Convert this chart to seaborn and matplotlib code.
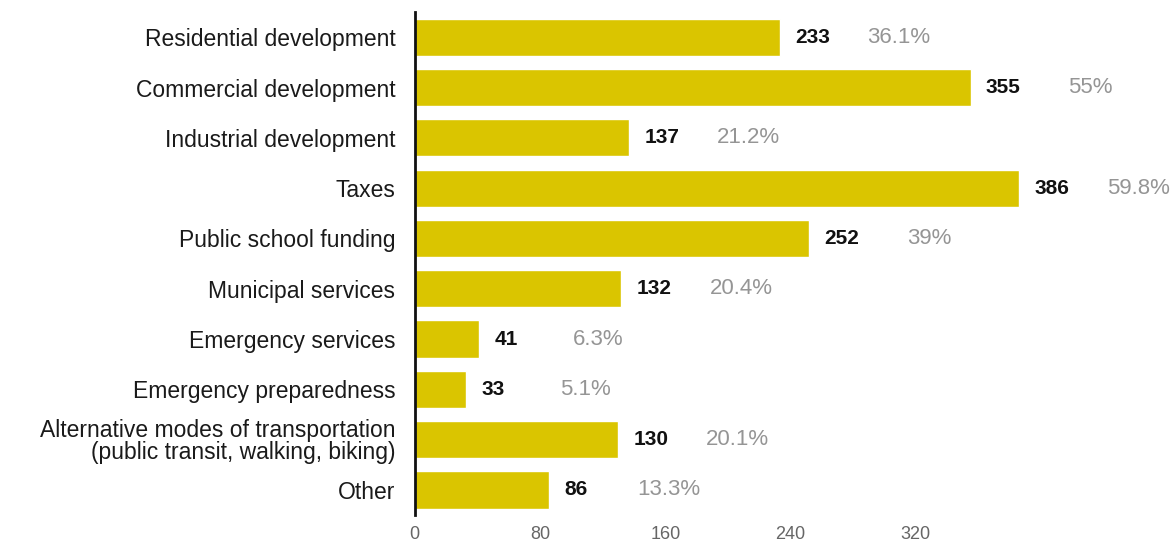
import matplotlib
matplotlib.use("Agg")
import matplotlib.pyplot as plt
import seaborn as sns
import pandas as pd

categories = [
    "Residential development",
    "Commercial development",
    "Industrial development",
    "Taxes",
    "Public school funding",
    "Municipal services",
    "Emergency services",
    "Emergency preparedness",
    "Alternative modes of transportation\n(public transit, walking, biking)",
    "Other",
]
counts = [233, 355, 137, 386, 252, 132, 41, 33, 130, 86]
percents = ["36.1%", "55%", "21.2%", "59.8%", "39%", "20.4%", "6.3%", "5.1%", "20.1%", "13.3%"]
xticks = [0, 80, 160, 240, 320]

sns.set_theme(style="white")
plt.rcParams["font.family"] = ["Liberation Sans", "DejaVu Sans"]

df = pd.DataFrame({"category": categories, "count": counts})

fig = plt.figure(figsize=(11.75, 5.48), dpi=100)
ax = fig.add_axes([0.353, 0.06, 0.633, 0.918])
sns.barplot(data=df, x="count", y="category", orient="h", color="#DAC500",
            saturation=1, width=0.74, ax=ax)

for i, (c, p) in enumerate(zip(counts, percents)):
    ax.annotate(str(c), xy=(c, i), xytext=(11, 0), textcoords="offset points",
                ha="left", va="center", fontsize=15, fontweight="bold", color="#111111")
    ax.annotate(p, xy=(c, i), xytext=(86, 0), textcoords="offset points",
                ha="center", va="center", fontsize=16, color="#959595")

ax.set_xlim(0, 475)
ax.set_xticks(xticks)
ax.set_xticklabels([str(t) for t in xticks], fontsize=13, color="#666666")
ax.tick_params(axis="x", length=0, pad=8)
ax.tick_params(axis="y", length=0, pad=14, labelsize=16.5, labelcolor="#1a1a1a")
ax.set_xlabel("")
ax.set_ylabel("")
for lbl in ax.get_yticklabels():
    lbl.set_linespacing(0.95)
for s in ["top", "right", "bottom"]:
    ax.spines[s].set_visible(False)
ax.spines["left"].set_color("#111111")
ax.spines["left"].set_linewidth(2)

fig.savefig("out.png", dpi=100)
